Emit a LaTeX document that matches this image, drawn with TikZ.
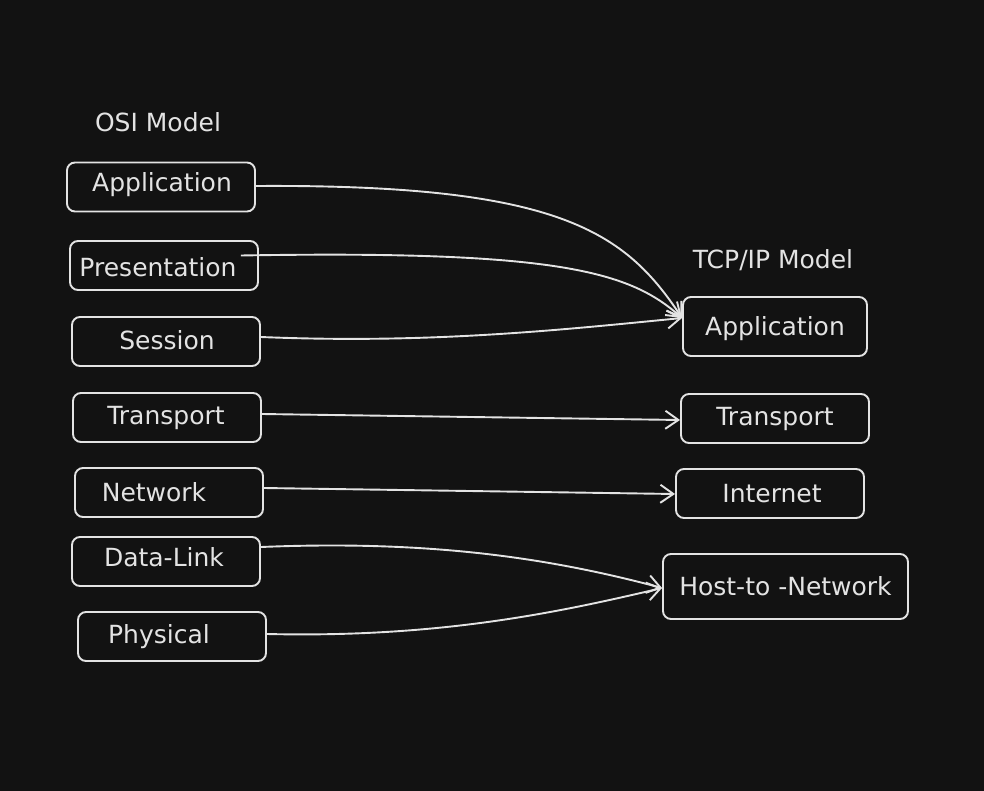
\documentclass[tikz,border=0pt]{standalone}
\usepackage{fontspec}
\setmainfont{DejaVu Sans}
\usetikzlibrary{arrows.meta}
\definecolor{bg}{HTML}{121212}
\definecolor{ink}{HTML}{E3E3E3}
\begin{document}
\begin{tikzpicture}[x=1pt,y=-1pt,
  box/.style={draw=ink,line width=1.9pt,rounded corners=8pt,minimum width=188pt,minimum height=49pt,inner sep=0pt},
  lbl/.style={text=ink,font=\fontsize{25}{29}\selectfont},
  ttl/.style={text=ink,font=\fontsize{25}{29}\selectfont},
  conn/.style={draw=ink,line width=1.9pt,-{Straight Barb[length=13pt,width=18pt,line width=1.9pt]}}]
\fill[bg] (0,0) rectangle (984,791);
\useasboundingbox (0,0) rectangle (984,791);
% titles
\node[ttl] (osi) at (158,122) {OSI Model};
\node[ttl] (tcp) at (773,260) {TCP/IP Model};
% OSI boxes
\node[box,label={[lbl,xshift=1pt,yshift=2pt]center:Application}] (oApp) at (161,187) {};
\node[box,label={[lbl,xshift=-6pt,yshift=-2pt]center:Presentation}] (oPre) at (164,265.5) {};
\node[box,label={[lbl,xshift=1pt,yshift=1pt]center:Session}] (oSes) at (166,341.5) {};
\node[box,label={[lbl,xshift=-1pt]center:Transport}] (oTra) at (167,417.5) {};
\node[box,label={[lbl,xshift=-15pt,yshift=0pt]center:Network}] (oNet) at (169,492.5) {};
\node[box,label={[lbl,xshift=-2pt,yshift=4pt]center:Data-Link}] (oDat) at (166,561.5) {};
\node[box,label={[lbl,xshift=-13pt,yshift=0pt]center:Physical}] (oPhy) at (172,636.5) {};
% TCP/IP boxes
\node[box,minimum width=184pt,minimum height=59pt,label={[lbl,xshift=0pt,yshift=-2pt]center:Application}] (tApp) at (775,326.5) {};
\node[box,label={[lbl,xshift=0pt,yshift=0pt]center:Transport}] (tTra) at (775,418.5) {};
\node[box,label={[lbl,xshift=2pt,yshift=0pt]center:Internet}] (tInt) at (770,493.5) {};
\node[box,minimum width=245pt,minimum height=65pt,label={[lbl,xshift=0pt,yshift=0pt]center:Host-to -Network}] (tHost) at (785.5,586.5) {};
% connectors
\coordinate (pStart) at ([xshift=-18pt,yshift=10pt]oPre.east);
\draw[conn] ([yshift=1pt]oApp.east) .. controls (560,184) and (625,232) .. ([yshift=8.5pt]tApp.west);
\draw[conn] (pStart) .. controls (560,250) and (630,272) .. ([yshift=8.5pt]tApp.west);
\draw[conn] ([yshift=4.5pt]oSes.east) .. controls (430,344) and (560,330) .. ([yshift=8.5pt]tApp.west);
\draw[conn] ([yshift=3.5pt]oTra.east) -- ([yshift=-1.5pt]tTra.west);
\draw[conn] ([yshift=4.5pt]oNet.east) -- ([yshift=-0.5pt]tInt.west);
\draw[conn] ([yshift=14.5pt]oDat.east) .. controls (430,540) and (550,558) .. ([yshift=-1.5pt]tHost.west);
\draw[conn] ([yshift=2.5pt]oPhy.east) .. controls (440,638) and (560,612) .. ([yshift=-1.5pt]tHost.west);
\end{tikzpicture}
\end{document}
